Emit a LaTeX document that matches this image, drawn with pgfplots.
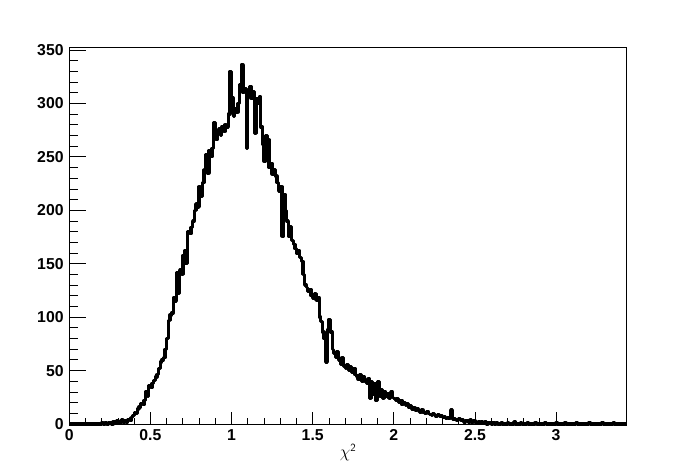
\documentclass[border=0pt]{standalone}
\usepackage{pgfplots}
\pgfplotsset{compat=1.18}
\usepackage{fontspec}
\setmainfont{Liberation Sans}
\begin{document}
\begin{tikzpicture}
\pgfplotsset{common/.style={
  scale only axis, width=557.4bp, height=377bp,
  xmin=0, xmax=3.435, ymin=0, ymax=352.8,
  axis line style={line width=0.8bp},
  tick align=inside,
  tick style={line width=0.8bp, black},
  /pgf/number format/assume math mode=true,
  ticklabel style={font=\fontsize{15.8bp}{18bp}\selectfont\bfseries},
  xticklabel style={inner sep=0pt, yshift=-5.5bp},
  yticklabel style={inner sep=0pt, xshift=-5.5bp},
}}
\begin{axis}[common,
  xtick=\empty,
  ytick={0,50,...,350}, minor y tick num=4,
  major tick length=17bp, minor tick length=9bp,
  yticklabel pos=left, ytick pos=left,
  clip=false]
\addplot[const plot, line width=3.3bp, black, line join=round] table {
x y
0.00 0
0.20 1
0.21 0
0.22 1
0.23 0
0.24 1
0.25 1
0.26 0
0.27 2
0.28 1
0.29 3
0.30 1
0.31 2
0.32 4
0.33 2
0.34 3
0.35 2
0.36 4
0.37 3
0.38 6
0.39 8
0.40 11
0.41 10
0.42 14
0.43 16
0.44 19
0.45 18
0.46 22
0.47 30
0.48 26
0.49 36
0.50 34
0.51 38
0.52 41
0.53 44
0.54 46
0.55 52
0.56 58
0.57 60
0.58 62
0.59 70
0.60 80
0.61 97
0.62 102
0.63 104
0.64 118
0.65 115
0.66 142
0.67 122
0.68 144
0.69 140
0.70 158
0.71 162
0.72 150
0.73 180
0.74 178
0.75 184
0.76 190
0.77 200
0.78 206
0.79 203
0.80 222
0.81 213
0.82 226
0.83 238
0.84 252
0.85 235
0.86 256
0.87 250
0.88 258
0.89 282
0.90 266
0.91 272
0.92 276
0.93 270
0.94 278
0.95 274
0.96 280
0.97 278
0.98 290
0.99 330
1.00 305
1.01 288
1.02 295
1.03 292
1.04 300
1.05 318
1.06 336
1.07 310
1.08 314
1.09 258
1.10 312
1.11 316
1.12 305
1.13 311
1.14 272
1.15 304
1.16 300
1.17 306
1.18 278
1.19 262
1.20 246
1.21 270
1.22 266
1.23 240
1.24 244
1.25 234
1.26 238
1.27 232
1.28 226
1.29 218
1.30 222
1.31 176
1.32 215
1.33 200
1.34 190
1.35 176
1.36 185
1.37 172
1.38 168
1.39 164
1.40 160
1.41 162
1.42 156
1.43 152
1.44 140
1.45 130
1.46 128
1.47 124
1.48 126
1.49 120
1.50 118
1.51 122
1.52 116
1.53 118
1.54 100
1.55 96
1.56 86
1.57 80
1.58 58
1.59 88
1.60 98
1.61 86
1.62 70
1.63 66
1.64 62
1.65 68
1.66 60
1.67 56
1.68 62
1.69 54
1.70 52
1.71 56
1.72 50
1.73 54
1.74 48
1.75 52
1.76 46
1.77 45
1.78 42
1.79 46
1.80 40
1.81 44
1.82 40
1.83 38
1.84 42
1.85 24
1.86 40
1.87 28
1.88 38
1.89 22
1.90 40
1.91 26
1.92 32
1.93 24
1.94 30
1.95 26
1.96 28
1.97 24
1.98 30
1.99 25
2.00 24
2.01 22
2.02 24
2.03 20
2.04 22
2.05 18
2.06 20
2.07 17
2.08 19
2.09 16
2.10 17
2.11 14
2.12 15
2.13 13
2.14 14
2.15 12
2.16 11
2.17 13
2.18 11
2.19 10
2.20 12
2.21 10
2.22 9
2.23 8
2.24 10
2.25 8
2.26 7
2.27 9
2.28 7
2.29 8
2.30 6
2.31 7
2.32 5
2.33 6
2.34 5
2.35 13
2.36 4
2.37 5
2.38 4
2.39 3
2.40 5
2.41 3
2.42 4
2.43 2
2.44 3
2.45 3
2.46 2
2.47 4
2.48 2
2.49 3
2.50 2
2.51 1
2.52 2
2.53 1
2.54 2
2.55 1
2.56 2
2.57 0
2.58 1
2.59 1
2.60 0
2.61 1
2.62 0
2.63 1
2.64 0
2.66 1
2.67 0
2.70 1
2.71 0
2.74 2
2.75 0
2.78 1
2.79 0
2.82 1
2.83 0
2.87 1
2.88 0
2.93 1
2.94 0
3.00 1
3.01 0
3.05 1
3.06 0
3.12 1
3.13 0
3.20 1
3.21 0
3.28 1
3.29 0
3.35 1
3.36 0
3.435 0
};
\end{axis}
\begin{axis}[common,
  ytick=\empty,
  xtick={0,0.5,...,3}, minor x tick num=4,
  major tick length=12bp, minor tick length=6bp,
  xticklabel pos=left, xtick pos=left,
  xticklabels={0,0.5,1,1.5,2,2.5,3},
  xlabel={$\chi^{\textsf{\fontsize{11bp}{12bp}\selectfont 2}}$},
  xlabel style={at={(axis description cs:0.5,0)}, anchor=north, inner sep=0pt, yshift=-20bp, font=\fontsize{17bp}{19bp}\selectfont}]
\end{axis}
\path ([shift={(-69.3bp,-48bp)}]current axis.south west) rectangle ([shift={(69.3bp,47bp)}]current axis.north east);
\end{tikzpicture}
\end{document}
